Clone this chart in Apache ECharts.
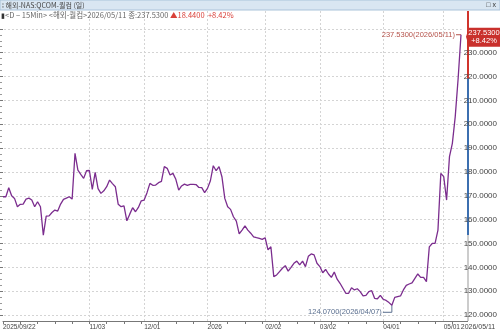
<!DOCTYPE html>
<html>
<head>
<meta charset="utf-8">
<script src="https://cdn.jsdelivr.net/npm/echarts@6/dist/echarts.min.js"></script>
<style>
html, body { margin: 0; padding: 0; background: #fff; }
#chart { width: 500px; height: 333px; }
</style>
</head>
<body>
<div id="chart"></div>
<script>
// 일봉 종가 (2025/09/22 ~ 2026/05/11)
var closes = [
    169.6, 169.6, 173.4, 170.0, 168.9, 165.4, 166.4, 166.5, 168.6, 169.0,
    168.2, 165.4, 167.5, 165.4, 153.5, 161.5, 161.6, 163.0, 164.0, 163.6,
    166.5, 168.5, 169.0, 169.6, 168.6, 187.8, 180.8, 179.0, 177.3, 180.5,
    180.6, 172.7, 179.8, 173.0, 171.0, 172.1, 173.8, 176.6, 175.1, 173.8,
    166.4, 165.4, 165.8, 159.5, 162.3, 165.0, 163.3, 165.1, 167.9, 168.2,
    171.3, 175.2, 174.4, 174.5, 175.5, 176.0, 182.2, 181.5, 178.7, 179.4,
    176.9, 172.4, 174.1, 174.9, 174.4, 174.8, 174.8, 174.7, 173.5, 173.4,
    171.3, 173.1, 176.3, 182.6, 180.5, 182.2, 178.0, 168.9, 165.4, 164.3,
    161.2, 159.4, 154.0, 155.6, 157.4, 155.6, 154.3, 152.8, 152.4, 152.1,
    151.7, 152.4, 147.3, 148.6, 136.1, 136.8, 138.2, 139.6, 140.7, 138.4,
    140.0, 141.7, 142.6, 141.0, 142.6, 140.3, 144.6, 145.6, 145.2, 141.7,
    140.3, 137.7, 139.1, 137.2, 135.8, 138.0, 135.0, 133.3, 131.2, 129.1,
    129.1, 131.4, 130.5, 131.0, 129.8, 128.0, 128.2, 129.8, 130.2, 127.0,
    126.8, 128.2, 126.6, 126.1, 125.2, 124.07, 127.4, 127.7, 128.0, 130.5,
    132.4, 133.0, 133.5, 135.4, 137.2, 135.8, 135.8, 134.0, 148.6, 150.0,
    150.0, 155.6, 179.4, 178.0, 168.2, 186.4, 192.0, 203.2, 219.09, 237.53
];

// 거래일 (주말, 휴장일 제외)
var startDate = '2025-09-22';
var endDate = '2026-05-11';
var holidays = ['2025-11-27', '2025-12-25', '2026-01-01', '2026-01-19', '2026-02-16', '2026-04-03'];

// x축 라벨
var labelDates = ['2025/09/22', '2025/11/03', '2025/12/01', '2026/01/02', '2026/02/02', '2026/03/02', '2026/04/01', '2026/05/01'];
var labelTexts = ['2025/09/22', '11/03', '12/01', '2026', '02/02', '03/02', '04/01', '05/01'];
var lastLabel = '2026/05/11';

// y축 눈금
var yMin = 120, yMax = 240, yStep = 10;

// 우측 축 색 구간 (전일종가 ~ 기준가)
var bandLow = 153.5;

var dates = [];
var d = new Date(startDate + 'T00:00:00Z');
var end = new Date(endDate + 'T00:00:00Z');
while (d <= end) {
    var iso = d.toISOString().slice(0, 10);
    var wd = d.getUTCDay();
    if (wd !== 0 && wd !== 6 && holidays.indexOf(iso) < 0) {
        dates.push(iso.replace(/-/g, '/'));
    }
    d.setUTCDate(d.getUTCDate() + 1);
}

var lastIdx = closes.length - 1;
var lastClose = closes[lastIdx];
var prevClose = closes[lastIdx - 1];
var change = lastClose - prevClose;
var pct = change / prevClose * 100;
var minIdx = 0;
closes.forEach(function (v, i) { if (v < closes[minIdx]) minIdx = i; });

var numFont = '"Liberation Sans Narrow", "Liberation Sans", sans-serif';
var krFont = '"Noto Sans CJK KR", sans-serif';

// 픽셀당 값: 120 -> y315, 230 -> y52.7
var pxPer = (315 - 52.7) / 110;
var gridTop = 11, gridBottom = 12;
var axisX = 468;
var dataRight = 500 - 461;
var dataMin = yMin - (333 - gridBottom - 315) / pxPer;
var dataMax = yMin + (315 - gridTop) / pxPer;

var chart = echarts.init(document.getElementById('chart'));

var option = {
    animation: false,
    backgroundColor: '#fff',
    grid: [
        { left: 0, right: dataRight, top: gridTop, bottom: gridBottom },
        { left: 0, right: 500 - axisX, top: 315 - (yMax - yMin) * pxPer, bottom: 333 - 315 }
    ],
    xAxis: [{
        type: 'category',
        gridIndex: 0,
        data: dates,
        boundaryGap: false,
        axisLine: { lineStyle: { color: '#777', width: 1 } },
        axisTick: {
            length: 3,
            interval: function (i) { return i % 6 === 0; },
            lineStyle: { color: '#777' }
        },
        axisLabel: {
            interval: function (i, v) { return labelDates.indexOf(v) >= 0; },
            formatter: function (v) { return labelTexts[labelDates.indexOf(v)]; },
            align: 'left',
            margin: 3,
            fontSize: 6.5,
            fontFamily: numFont,
            color: '#444'
        },
        splitLine: {
            show: true,
            interval: function (i, v) { return i > 0 && labelDates.indexOf(v) >= 0; },
            lineStyle: { color: '#d4d4d4', type: [2, 2] }
        }
    }, {
        type: 'value',
        gridIndex: 1,
        show: false
    }],
    yAxis: [{
        type: 'value',
        gridIndex: 0,
        position: 'right',
        offset: (500 - dataRight) - axisX,
        min: dataMin,
        max: dataMax,
        axisLine: { show: false },
        axisTick: { show: false },
        axisLabel: { show: false },
        splitLine: { show: false }
    }, {
        type: 'value',
        gridIndex: 1,
        position: 'right',
        min: yMin,
        max: yMax,
        interval: yStep,
        axisLine: { show: false },
        axisTick: { show: true, length: 3, lineStyle: { color: '#777' } },
        minorTick: { show: true, splitNumber: 4, length: 2, lineStyle: { color: '#999' } },
        axisLabel: {
            margin: 2,
            fontSize: 8,
            fontFamily: numFont,
            color: '#444',
            showMaxLabel: false,
            formatter: function (v) { return v.toFixed(4); }
        },
        splitLine: { lineStyle: { color: '#d4d4d4', type: [2, 2] } }
    }],
    series: [{
        type: 'line',
        xAxisIndex: 0,
        yAxisIndex: 0,
        data: closes,
        symbol: 'none',
        lineStyle: { color: '#7b2d8e', width: 1.3 }
    }]
};

chart.setOption(option);

// 주석, 태그, 타이틀 바
var pLast = chart.convertToPixel({ gridIndex: 0 }, [lastIdx, lastClose]);
var pMin = chart.convertToPixel({ gridIndex: 0 }, [minIdx, closes[minIdx]]);
var yPrev = chart.convertToPixel({ gridIndex: 0 }, [0, prevClose])[1];
var yBand = chart.convertToPixel({ gridIndex: 0 }, [0, bandLow])[1];
var yBottom = 333 - gridBottom;
var minLabelY = pMin[1] + 7;

chart.setOption({
    graphic: [
        // 타이틀 바
        { type: 'rect', shape: { x: 0, y: 0, width: 500, height: 10 }, style: { fill: '#d9e6f2', stroke: '#aac3da', lineWidth: 1 } },
        { type: 'text', x: 2, y: 5, style: { text: '⁞ 해외-NAS:QCOM-퀄컴 (일)', font: '7px ' + krFont, fill: '#444', verticalAlign: 'middle' } },
        { type: 'text', x: 496, y: 5, style: { text: '□ x', font: '7px ' + numFont, fill: '#333', align: 'right', verticalAlign: 'middle' } },
        // 부제목
        {
            type: 'text', x: 1, y: 15,
            style: {
                text: '{g|▮}{a|<D − 15Min> <해외-퀄컴>2026/05/11 종:' + lastClose.toFixed(4) + ' }{r|▲' + change.toFixed(4) + '  +' + pct.toFixed(2) + '%}',
                verticalAlign: 'middle',
                rich: {
                    g: { font: '7px ' + krFont, fill: '#333' },
                    a: { font: '7.5px ' + krFont, fill: '#666' },
                    r: { font: '7.5px ' + krFont, fill: '#d9413a' }
                }
            }
        },
        // x축 연장 + 마지막 날짜 라벨
        { type: 'line', shape: { x1: 500 - dataRight, y1: yBottom + 0.5, x2: axisX, y2: yBottom + 0.5 }, style: { stroke: '#777', lineWidth: 1 } },
        { type: 'text', x: 478, y: 327, style: { text: lastLabel, font: '7px ' + numFont, fill: '#444', align: 'center', verticalAlign: 'middle' } },
        // 우측 축선 및 색 구간
        { type: 'line', shape: { x1: axisX, y1: gridTop, x2: axisX, y2: yBottom }, style: { stroke: '#999', lineWidth: 1 } },
        { type: 'line', shape: { x1: axisX, y1: gridTop, x2: axisX, y2: yPrev }, style: { stroke: '#d0342c', lineWidth: 2 } },
        { type: 'line', shape: { x1: axisX, y1: yPrev, x2: axisX, y2: yBand }, style: { stroke: '#3c6fb0', lineWidth: 2 } },
        // 현재가 태그
        {
            type: 'polygon',
            shape: { points: [[axisX - 2, pLast[1] + 2], [axisX + 1, pLast[1] - 7], [500, pLast[1] - 7], [500, pLast[1] + 12], [axisX + 1, pLast[1] + 12]] },
            style: { fill: '#c9302c' }
        },
        { type: 'text', x: 484, y: pLast[1] - 2, style: { text: lastClose.toFixed(4), font: '7.5px ' + numFont, fill: '#fff', align: 'center', verticalAlign: 'middle' } },
        { type: 'text', x: 484, y: pLast[1] + 6, style: { text: '+' + pct.toFixed(2) + '%', font: '7.5px ' + numFont, fill: '#fff', align: 'center', verticalAlign: 'middle' } },
        // 최고가 주석
        { type: 'line', shape: { x1: pLast[0] - 5, y1: pLast[1], x2: pLast[0], y2: pLast[1] }, style: { stroke: '#b5524a', lineWidth: 1 } },
        { type: 'text', x: pLast[0] - 6, y: pLast[1], style: { text: lastClose.toFixed(4) + '(' + dates[lastIdx] + ')', font: '7.5px ' + numFont, fill: '#b5524a', align: 'right', verticalAlign: 'middle' } },
        // 최저가 주석
        { type: 'polyline', shape: { points: [[pMin[0], pMin[1]], [pMin[0], minLabelY], [pMin[0] - 9, minLabelY]] }, style: { stroke: '#5b6f8f', lineWidth: 1, fill: null } },
        { type: 'text', x: pMin[0] - 10, y: minLabelY, style: { text: closes[minIdx].toFixed(4) + '(' + dates[minIdx] + ')', font: '7.5px ' + numFont, fill: '#5b6f8f', align: 'right', verticalAlign: 'middle' } }
    ]
});
</script>
</body>
</html>
